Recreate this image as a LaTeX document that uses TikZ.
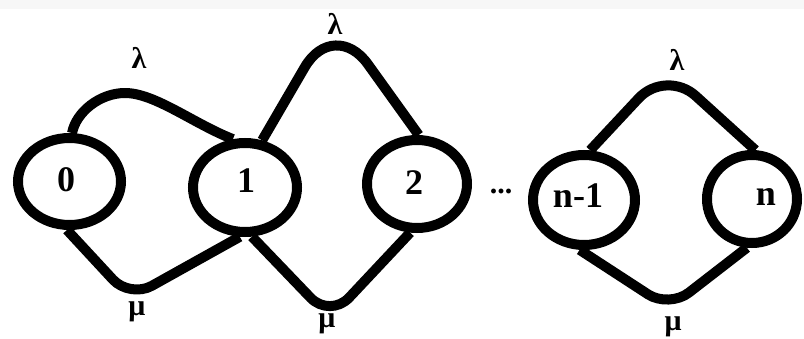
\documentclass[tikz,border=0pt]{standalone}
\usepackage{fontspec}
\setmainfont{Liberation Serif}
\usetikzlibrary{shapes.geometric}
\begin{document}
\begin{tikzpicture}[x=1pt,y=-1pt,
  state/.style={ellipse,draw,line width=10pt,inner sep=0pt},
  lbl/.style={font=\fontsize{36}{40}\selectfont\bfseries,inner sep=0pt},
  arc/.style={line width=10pt,line join=round},
  rate/.style={font=\fontsize{30}{34}\selectfont\bfseries,inner sep=0pt}]
\useasboundingbox (0,0) rectangle (804,339);
\fill[black!3] (0,0) rectangle (804,9);
\node[state,minimum width=103pt,minimum height=87pt] (n0) at (69.5,181.5) {};
\node[state,minimum width=104pt,minimum height=89pt] (n1) at (245,187.5) {};
\node[state,minimum width=100pt,minimum height=88pt] (n2) at (417,184) {};
\node[state,minimum width=102pt,minimum height=90pt] (nm) at (584,200) {};
\node[state,minimum width=90pt,minimum height=88pt] (nn) at (752,199) {};
\node[lbl] (t0) at (66,180) {0};
\node[lbl] (t1) at (246,181) {1};
\node[lbl] (t2) at (414,183) {2};
\node[lbl] (tm) at (578,196) {n-1};
\node[lbl] (tn) at (766,197) {n};
\node[rate,anchor=base] (dots) at (501,194) {...};
% lambda arcs
\draw[arc] (n0.87) .. controls (76,112) and (100,93) .. (125,93)
  .. controls (155,93) and (194,124) .. (n1.104);
\draw[arc,rounded corners=58pt] (n1.70) -- (334,17) -- (n2.88);
\draw[arc,rounded corners=40pt] (nm.83) -- (666,69) -- (nn.86);
% mu arcs
\draw[arc,rounded corners=25pt] (n0.267) -- (130,298) -- (n1.264);
\draw[arc,rounded corners=28pt] (n1.278) -- (330,318) -- (n2.262);
\draw[arc,rounded corners=25pt] (nm.265) -- (669,308) -- (nn.264);
% labels
\node[rate] (l1) at (139,58) {λ};
\node[rate] (l2) at (335,24) {λ};
\node[rate] (l3) at (677,60) {λ};
\node[rate] (m1) at (137,312) {μ};
\node[rate] (m2) at (327,324) {μ};
\node[rate] (m3) at (673,327) {μ};
\end{tikzpicture}
\end{document}
